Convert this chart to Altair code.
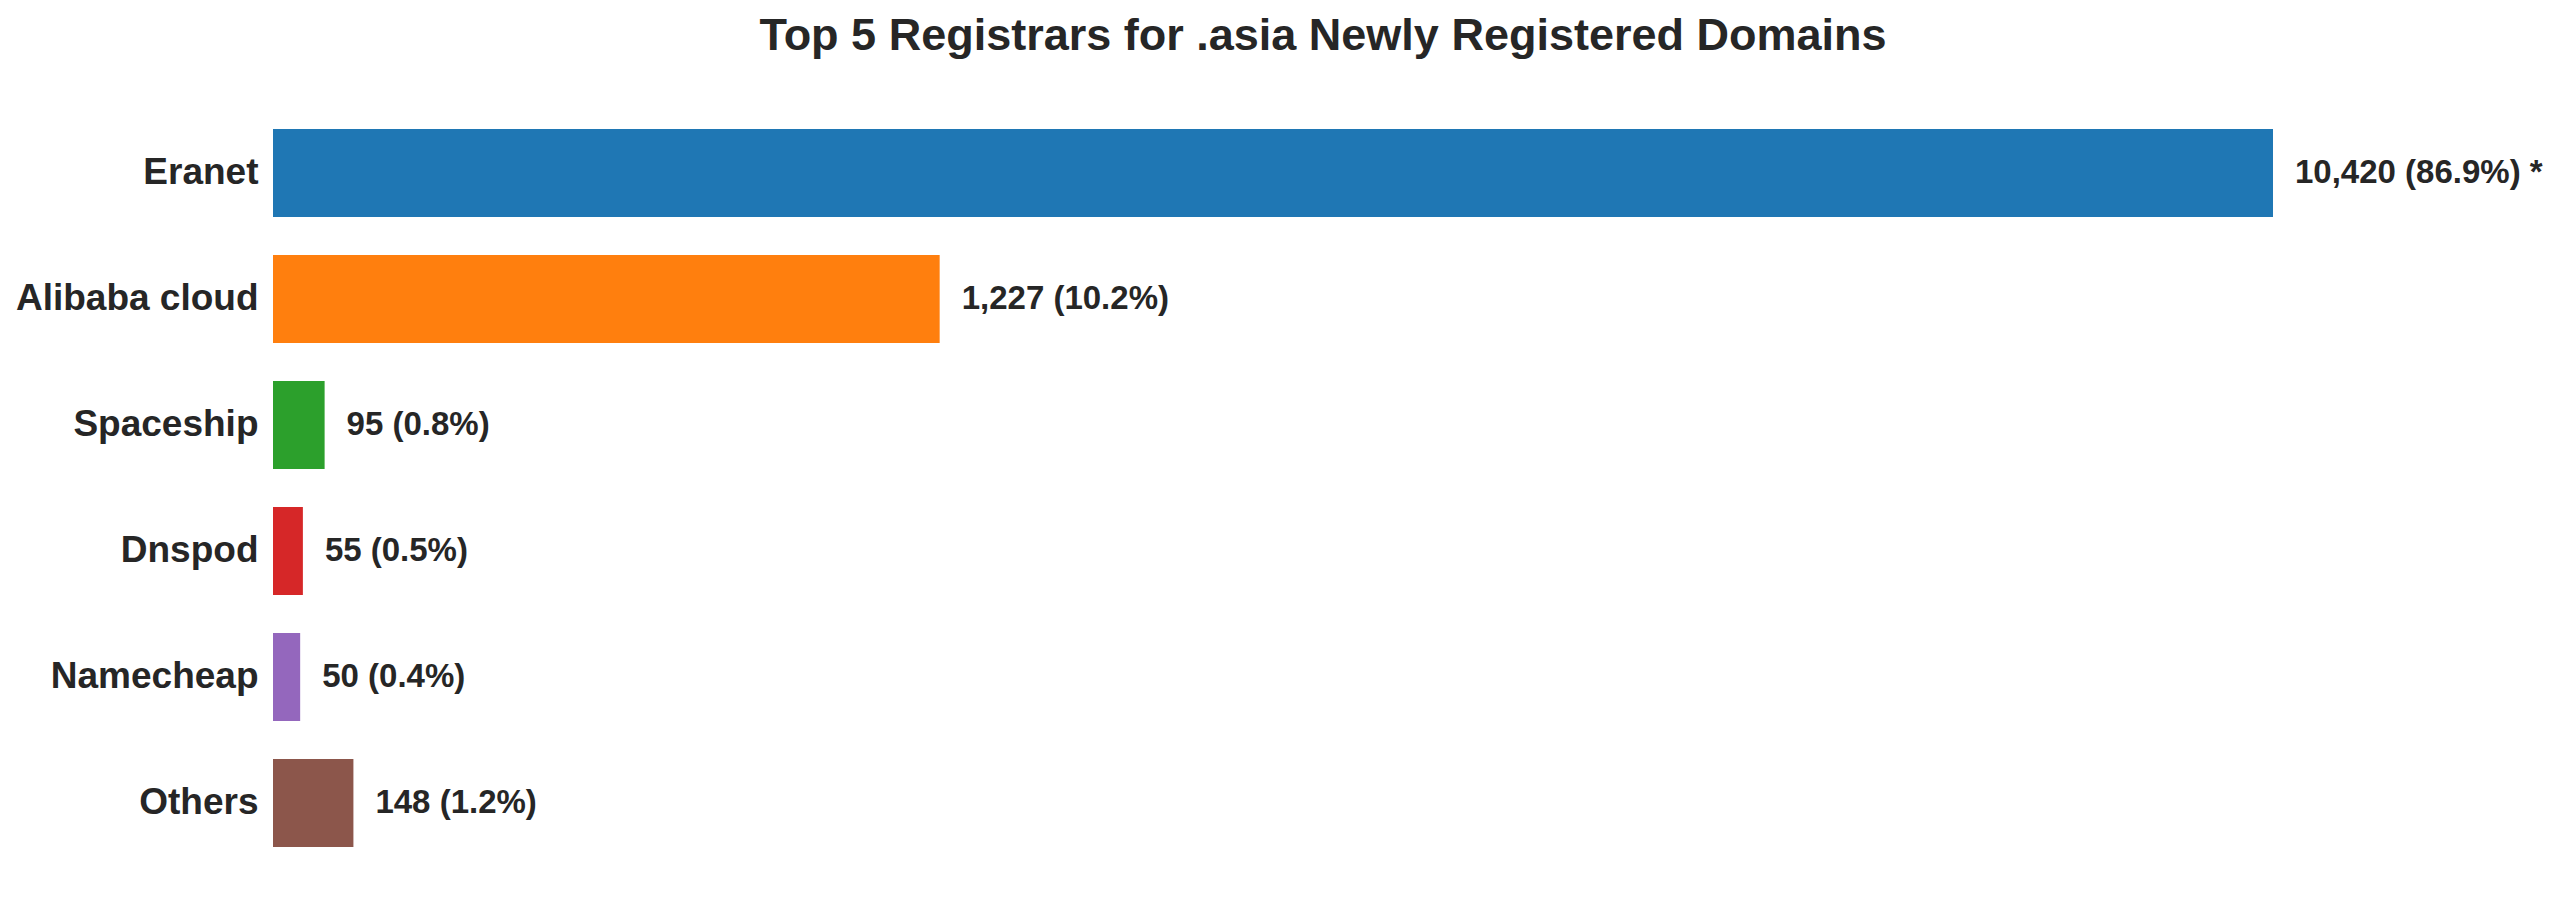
import altair as alt
import pandas as pd

registrars = ["Eranet", "Alibaba cloud", "Spaceship", "Dnspod", "Namecheap", "Others"]
counts = [10420, 1227, 95, 55, 50, 148]
colors = ["#1f77b4", "#ff7f0e", "#2ca02c", "#d62728", "#9467bd", "#8c564b"]

total = sum(counts)
cap = 3 * sorted(counts)[-2]          # largest bar is truncated (marked with *)
plotted = [min(c, cap) for c in counts]
labels = [f"{c:,} ({c / total * 100:.1f}%)" + (" *" if c > cap else "") for c in counts]

df = pd.DataFrame({"registrar": registrars, "count": counts,
                   "plotted": plotted, "label": labels})

FONT = "Liberation Sans"
TXT = "#262626"

x_enc = alt.X("plotted:Q", scale=alt.Scale(domain=[0, cap * 1.05], nice=False, zero=True), axis=None)
y_enc = alt.Y("registrar:N", sort=registrars,
              scale=alt.Scale(paddingInner=0.3, paddingOuter=0.15),
              axis=alt.Axis(title=None, ticks=False, domain=False, grid=False,
                            labelPadding=15, labelFontSize=37, labelFontWeight="bold",
                            labelColor=TXT, labelFont=FONT, labelLimit=500))

bars = alt.Chart(df).mark_bar().encode(
    x=x_enc,
    y=y_enc,
    color=alt.Color("registrar:N", scale=alt.Scale(domain=registrars, range=colors), legend=None),
)

text = alt.Chart(df).mark_text(align="left", baseline="middle", dx=22, fontSize=33,
                               fontWeight="bold", font=FONT, color=TXT).encode(
    x=x_enc,
    y=y_enc,
    text="label:N",
)

chart = alt.layer(bars, text).properties(
    width=2100,
    height=756,
    title=alt.TitleParams(text="Top 5 Registrars for .asia Newly Registered Domains",
                          fontSize=45, font=FONT, fontWeight="bold", color=TXT,
                          anchor="middle", baseline="alphabetic", offset=15),
    autosize=alt.AutoSizeParams(type="none"),
    padding={"left": 265, "top": 102, "right": 179, "bottom": 20},
).configure_view(stroke=None)

chart.save("out.html", embed_options={"renderer": "svg", "actions": False})
